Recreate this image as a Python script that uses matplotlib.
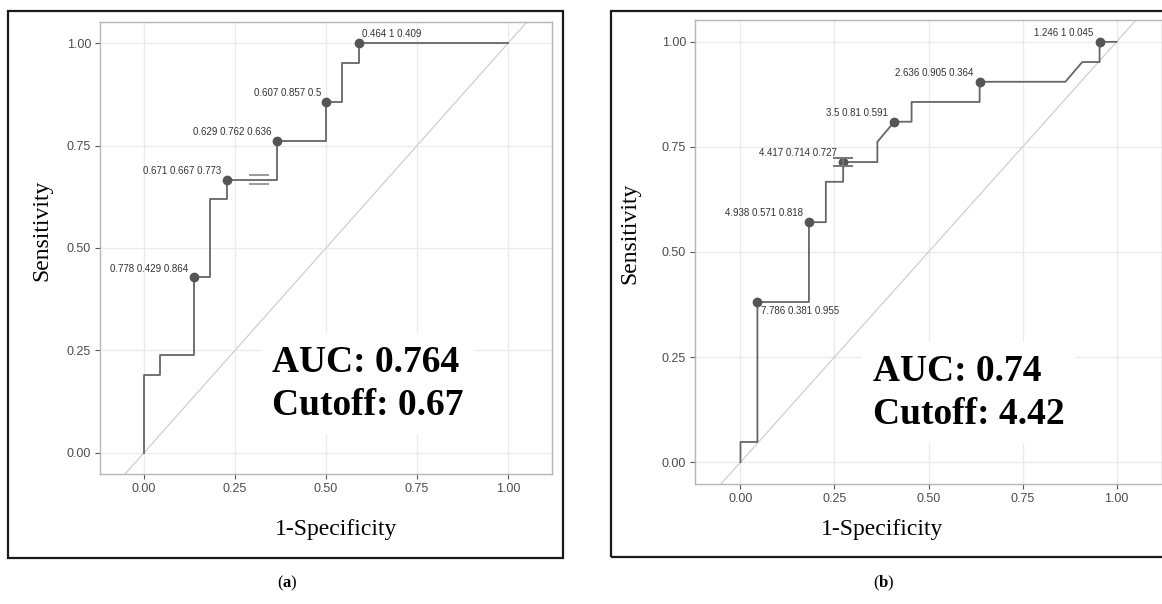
import matplotlib
matplotlib.use('Agg')
import matplotlib.pyplot as plt
from matplotlib.patches import Rectangle

# panel (a): ROC curve corners (1-specificity, sensitivity)
fpr_a = [0, 0, 0.045, 0.045, 0.136, 0.136, 0.182, 0.182, 0.227, 0.227,
         0.364, 0.364, 0.5, 0.5, 0.545, 0.545, 0.591, 0.591, 1.0]
tpr_a = [0, 0.19, 0.19, 0.238, 0.238, 0.429, 0.429, 0.619, 0.619, 0.667,
         0.667, 0.762, 0.762, 0.857, 0.857, 0.952, 0.952, 1.0, 1.0]
cut_a = ['0.464', '0.607', '0.629', '0.671', '0.778']
sens_a = [1, 0.857, 0.762, 0.667, 0.429]
spec_a = [0.409, 0.5, 0.636, 0.773, 0.864]
ci_a = (0.315, 0.667, 0.011)
auc_a = 'AUC: 0.764\nCutoff: 0.67'

# panel (b)
fpr_b = [0, 0, 0.045, 0.045, 0.182, 0.182, 0.227, 0.227, 0.273, 0.273, 0.364,
         0.364, 0.409, 0.455, 0.455, 0.636, 0.636, 0.864, 0.909, 0.955, 0.955, 1.0]
tpr_b = [0, 0.048, 0.048, 0.381, 0.381, 0.571, 0.571, 0.667, 0.667, 0.714, 0.714,
         0.762, 0.81, 0.81, 0.857, 0.857, 0.905, 0.905, 0.952, 0.952, 1.0, 1.0]
cut_b = ['1.246', '2.636', '3.5', '4.417', '4.938', '7.786']
sens_b = [1, 0.905, 0.81, 0.714, 0.571, 0.381]
spec_b = [0.045, 0.364, 0.591, 0.727, 0.818, 0.955]
ci_b = (0.273, 0.714, 0.009)
auc_b = 'AUC: 0.74\nCutoff: 4.42'

ticks = [0, 0.25, 0.5, 0.75, 1.0]
tick_labels = ['0.00', '0.25', '0.50', '0.75', '1.00']

plt.rcParams['mathtext.fontset'] = 'custom'
plt.rcParams['mathtext.rm'] = 'Liberation Serif'
plt.rcParams['mathtext.bf'] = 'Liberation Serif:bold'

fig = plt.figure(figsize=(11.62, 6.04), dpi=100)
W, H = 1162, 604


def box(x0, y0, x1, y1):
    # pixel box (top-left origin) -> figure fraction
    return [x0 / W, 1 - y1 / H, (x1 - x0) / W, (y1 - y0) / H]


def draw(ax, fpr, tpr, cuts, sens, spec, offsets, auc_txt, auc_y):
    ax.set_xlim(-0.121, 1.121)
    ax.set_ylim(-0.052, 1.052)
    ax.set_xticks(ticks, tick_labels)
    ax.set_yticks(ticks, tick_labels)
    ax.grid(True, color='#ebebeb', lw=1)
    ax.set_axisbelow(True)
    for s in ax.spines.values():
        s.set_color('#b5b5b5')
        s.set_linewidth(1)
    ax.tick_params(length=3.5, width=0.8, color='#555555',
                   labelcolor='#4d4d4d', labelsize=9, pad=3)
    for lab in ax.get_xticklabels() + ax.get_yticklabels():
        lab.set_family('Liberation Sans')

    ax.axline((0, 0), slope=1, color='#cfcfcf', lw=0.9, zorder=1)
    ax.plot(fpr, tpr, color='#666666', lw=1.3, zorder=2)

    px = [1 - s for s in spec]
    ax.plot(px, sens, 'o', color='#555555', ms=6, zorder=4)
    for x, y, c, se, sp, (dx, dy, ha) in zip(px, sens, cuts, sens, spec, offsets):
        ax.annotate(f'{c} {se:g} {sp:g}', (x, y), xytext=(dx, dy),
                    textcoords='offset pixels', ha=ha, va='center',
                    fontsize=7, color='#333333', family='Liberation Sans')

    ax.text(0.381, auc_y, auc_txt, transform=ax.transAxes, ha='left',
            va='center', fontsize=27, fontweight='bold',
            family='Liberation Serif', linespacing=1.3, zorder=5,
            bbox=dict(facecolor='white', edgecolor='none', pad=8))


ax1 = fig.add_axes(box(100, 22, 552, 474))
off_a = [(3, 9, 'left'), (-5, 9, 'right'), (-5, 9, 'right'),
         (-5, 9, 'right'), (-5, 8, 'right')]
draw(ax1, fpr_a, tpr_a, cut_a, sens_a, spec_a, off_a, auc_a, 0.2)
ax1.errorbar(ci_a[0], ci_a[1], yerr=ci_a[2], color='#9a9a9a',
             elinewidth=0, capsize=7, capthick=1.4, zorder=3)

ax2 = fig.add_axes(box(695, 20, 1162, 484))
off_b = [(-6, 9, 'right'), (-6, 9, 'right'), (-6, 9, 'right'),
         (-6, 9, 'right'), (-6, 9, 'right'), (4, -9, 'left')]
draw(ax2, fpr_b, tpr_b, cut_b, sens_b, spec_b, off_b, auc_b, 0.197)
ax2.errorbar(ci_b[0], ci_b[1], yerr=ci_b[2], color='#777777',
             elinewidth=1.2, capsize=7, capthick=1.4, zorder=5)

# outer frames
for x0, y0, x1, y1 in [(8, 11, 563, 558), (611, 11, 1175, 557)]:
    b = box(x0, y0, x1, y1)
    fig.patches.append(Rectangle((b[0], b[1]), b[2], b[3], fill=False,
                                 edgecolor='#1a1a1a', lw=1.6,
                                 transform=fig.transFigure, figure=fig))

serif = 'Liberation Serif'
fig.text(42 / W, 1 - 230 / H, 'Sensitivity', rotation=90, ha='center',
         va='center', fontsize=17, family=serif)
fig.text(630 / W, 1 - 233 / H, 'Sensitivity', rotation=90, ha='center',
         va='center', fontsize=17, family=serif)
fig.text(336 / W, 1 - 530 / H, '1-Specificity', ha='center', va='center',
         fontsize=17, family=serif)
fig.text(882 / W, 1 - 530 / H, '1-Specificity', ha='center', va='center',
         fontsize=17, family=serif)
fig.text(287 / W, 1 - 583 / H, r'($\mathbf{a}$)', ha='center', va='center',
         fontsize=12, family=serif)
fig.text(884 / W, 1 - 583 / H, r'($\mathbf{b}$)', ha='center', va='center',
         fontsize=12, family=serif)

fig.savefig('out.png', dpi=100)
